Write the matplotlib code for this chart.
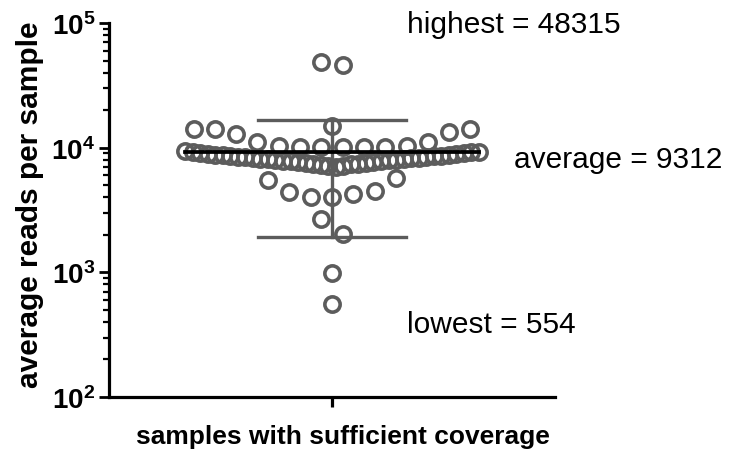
import numpy as np
import matplotlib
matplotlib.use("Agg")
import matplotlib.pyplot as plt
from matplotlib.ticker import FuncFormatter, LogLocator, NullFormatter

plt.rcParams["font.family"] = ["Liberation Sans", "DejaVu Sans"]
plt.rcParams["mathtext.fontset"] = "custom"
plt.rcParams["mathtext.rm"] = "Liberation Sans"
plt.rcParams["mathtext.bf"] = "Liberation Sans:bold"

# average reads per sample
reads = [
    48315, 46400,
    14800,
    10050, 10080, 10120, 10150, 10180, 10220, 10260,
    11170, 11170, 12950, 13450, 14150, 14150, 14150,
    7040, 7120, 7190, 7260, 7330, 7400, 7460, 7530, 7580, 7640,
    7700, 7760, 7810, 7870, 7920, 7980, 8030, 8080, 8120, 8160,
    8200, 8240, 8290, 8340, 8390, 8440, 8500, 8560, 8620, 8680,
    8740, 8800, 8870, 8940, 9010, 9080, 9150, 9220, 9290, 9330,
    4040, 4040, 4275, 4440, 4520, 5530, 5700,
    2037, 2690,
    991,
    554,
]
mean_reads = 9312
sd_reads = 7400
notes = ["highest = 48315", "average = 9312", "lowest = 554"]

grey = "#5c5c5c"


def swarm_offsets(vals, h=0.15, step=21.3, max_half=147):
    # group values that sit close together on the log scale and spread them sideways
    vals = np.asarray(vals, dtype=float)
    logs = np.log10(vals)
    order = np.argsort(vals, kind="stable")
    groups = []
    cur = [order[0]]
    for i in order[1:]:
        if logs[i] - logs[cur[0]] < h:
            cur.append(i)
        else:
            groups.append(cur)
            cur = [i]
    groups.append(cur)
    offs = np.zeros(len(vals))
    for g in groups:
        n = len(g)
        sp = step if (n - 1) * step <= 2 * max_half else 2 * max_half / (n - 1)
        for k, i in enumerate(g):
            if n % 2:
                slot = 0 if k == 0 else ((k + 1) // 2) * (-1 if k % 2 else 1)
            else:
                slot = (k // 2 + 0.5) * (1 if k % 2 == 0 else -1)
            offs[i] = slot * sp
    return offs


fig = plt.figure(figsize=(7.3, 4.52), dpi=100)
ax = fig.add_axes([0.1493, 0.1195, 0.6110, 0.8274])
ax.set_xlim(-1, 1)
ax.set_yscale("log")
ax.set_ylim(1e2, 1e5)

px_per_unit = ax.bbox.width / 2
xs = swarm_offsets(reads) / px_per_unit
ax.plot(xs, reads, "o", ms=11, mfc="none", mec=grey, mew=2.6, zorder=2)

# mean and SD
ax.plot([0, 0], [mean_reads - sd_reads, mean_reads + sd_reads], color=grey, lw=2.4, zorder=3)
for yv in (mean_reads - sd_reads, mean_reads + sd_reads):
    ax.plot([-0.33, 0.33], [yv, yv], color=grey, lw=2.4, zorder=3)
ax.plot([-0.66, 0.66], [mean_reads, mean_reads], color="black", lw=2.7, zorder=4)

for s in ["top", "right"]:
    ax.spines[s].set_visible(False)
for s in ["left", "bottom"]:
    ax.spines[s].set_linewidth(2.3)

ax.yaxis.set_major_locator(LogLocator(base=10, numticks=10))
ax.yaxis.set_minor_locator(LogLocator(base=10, subs=np.arange(2, 10), numticks=10))
ax.yaxis.set_minor_formatter(NullFormatter())
ax.yaxis.set_major_formatter(FuncFormatter(lambda v, p: r"$\mathbf{10^{%d}}$" % round(np.log10(v))))
ax.tick_params(axis="y", which="major", length=7, width=2, labelsize=20, pad=3)
ax.tick_params(axis="y", which="minor", length=4, width=1.6)
ax.set_xticks([0])
ax.set_xticklabels([""])
ax.tick_params(axis="x", length=7, width=2.3)

ax.set_ylabel("average reads per sample", fontsize=21.5, fontweight="bold")
ax.yaxis.set_label_coords(-0.177, 0.516)
ax.yaxis.label.set_va("center")
ax.set_xlabel("samples with sufficient coverage", fontsize=19, fontweight="bold")
ax.xaxis.set_label_coords(0.5236, -0.104)
ax.xaxis.label.set_va("center")

fig.text(407 / 730, 1 - 25 / 452, notes[0], fontsize=21.5, va="center", ha="left")
fig.text(514 / 730, 1 - 160 / 452, notes[1], fontsize=21.5, va="center", ha="left")
fig.text(407 / 730, 1 - 325 / 452, notes[2], fontsize=21.5, va="center", ha="left")

fig.savefig("out.png", dpi=100)
